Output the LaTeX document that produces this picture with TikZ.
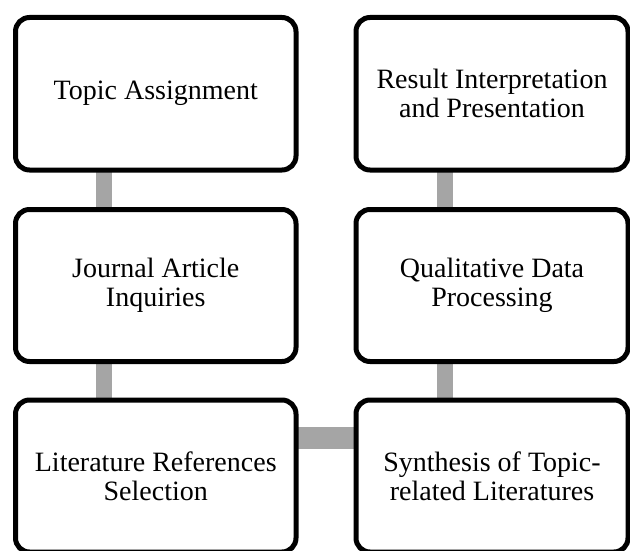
\documentclass[tikz,border=0pt]{standalone}
\usepackage{fontspec}
\setmainfont{Liberation Serif}
\usetikzlibrary{backgrounds}
\definecolor{conngray}{HTML}{A5A5A5}
\tikzset{
  stepbox/.style={draw=black, line width=5pt, fill=white, rounded corners=14pt,
    minimum height=152pt, outer sep=0pt, inner sep=0pt, align=center,
    font=\fontsize{28pt}{29pt}\selectfont},
  leftbox/.style={stepbox, minimum width=280.5pt},
  rightbox/.style={stepbox, minimum width=272pt},
  vconn/.style={draw=conngray, line width=16pt},
  hconn/.style={draw=conngray, line width=22pt}
}
\begin{document}
\begin{tikzpicture}[x=1pt, y=-1pt]
\useasboundingbox (0,0) rectangle (630,551);
\node[leftbox, minimum height=152.5pt] (a) at (155.75,93.75) {Topic Assignment};
\node[leftbox] (b) at (155.75,285.5) {Journal Article\\Inquiries};
\node[leftbox] (c) at (155.75,476) {Literature References\\Selection};
\node[rightbox, minimum height=152.5pt] (f) at (492,93.75) {Result Interpretation\\and Presentation};
\node[rightbox] (e) at (492,285.5) {Qualitative Data\\Processing};
\node[rightbox] (d) at (492,476) {Synthesis of Topic-\\related Literatures};
\begin{scope}[on background layer]
\draw[vconn] ([xshift=88.5pt]a.south west) -- ([xshift=88.5pt]b.north west);
\draw[vconn] ([xshift=88.5pt]b.south west) -- ([xshift=88.5pt]c.north west);
\draw[hconn] ([yshift=-38pt]c.north east) -- ([yshift=-38pt]d.north west);
\draw[vconn] ([xshift=89pt]d.north west) -- ([xshift=89pt]e.south west);
\draw[vconn] ([xshift=89pt]e.north west) -- ([xshift=89pt]f.south west);
\end{scope}
\end{tikzpicture}
\end{document}
